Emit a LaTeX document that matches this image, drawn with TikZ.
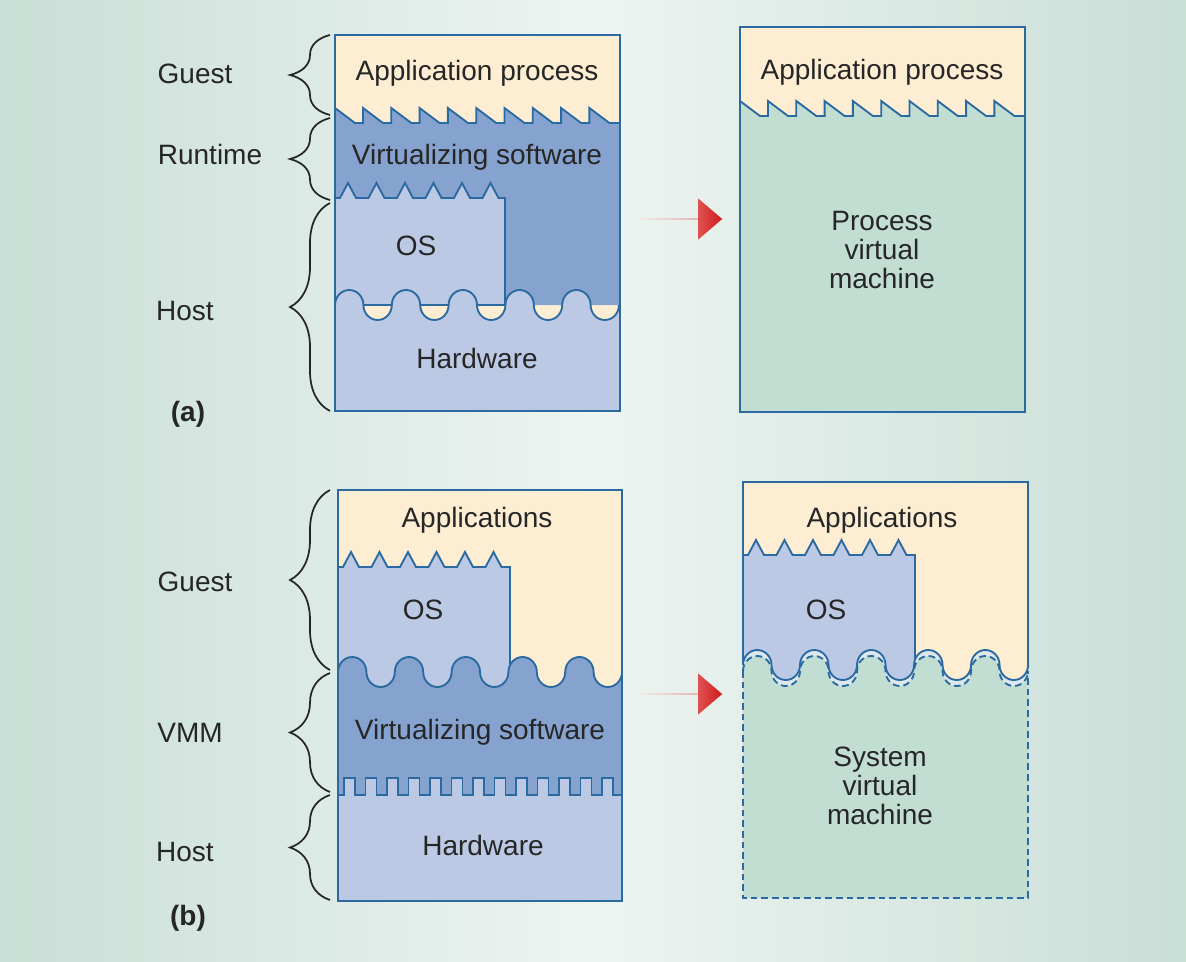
\documentclass[tikz,border=0pt]{standalone}
\usepackage{fontspec}
\setmainfont{Liberation Sans}
\usetikzlibrary{decorations.pathreplacing,shapes.arrows}
\definecolor{bgE}{HTML}{C8DFD6}
\definecolor{bgM}{HTML}{EEF4F1}
\definecolor{yel}{HTML}{FDEED3}
\definecolor{dblue}{HTML}{86A2CF}
\definecolor{lblue}{HTML}{BCC9E4}
\definecolor{grn}{HTML}{C2DDD2}
\definecolor{edge}{HTML}{2A6AA0}
\definecolor{pale}{HTML}{DCE8EE}
\begin{document}
\begin{tikzpicture}[x=0.75pt,y=-0.75pt,
  ln/.style={draw=edge,line width=1.4pt},
  lab/.style={font=\fontsize{21}{25}\selectfont,align=center,inner sep=0,text=black!85},
  brc/.style={decorate,decoration={brace,amplitude=30pt,aspect=0.5},draw=black!85,line width=1.3pt},
  arr/.style={single arrow,single arrow head extend=11.6pt,single arrow tip angle=81,
    minimum height=61.5pt,minimum width=30.75pt,inner sep=0,left color=red!15,right color=red!80!black!90,draw=none},
  hill/.style={},
]
\shade[left color=bgE,right color=bgE,middle color=bgM] (0,0) rectangle (1186,961);
\useasboundingbox (0,0) rectangle (1186,961);

% ===== (a) left =====
\fill[yel] (335,35) rectangle (620,411);
\fill[dblue] (335,108) \foreach \p in {363,391.3,...,592} {-- ++(20,15) -- (\p,123) -- (\p,108)} -- ++(20,15) -- (620,123) -- (620,305) -- (335,305) -- cycle;
\draw[ln] (335,108) \foreach \p in {363,391.3,...,592} {-- ++(20,15) -- (\p,123) -- (\p,108)} -- ++(20,15) -- (620,123);
\filldraw[fill=lblue,ln] (335,198) \foreach \p in {348,376.5,...,495} {-- (\p-8,198) -- (\p,183) -- (\p+8,198)} -- (505,198) -- (505,305) -- (335,305);
\fill[lblue] (335,305) \foreach \i in {1,...,5} {arc[start angle=180,end angle=0,x radius=10.65pt,y radius=11.25pt] arc[start angle=180,end angle=360,x radius=10.65pt,y radius=11.25pt]} -- (620,411) -- (335,411) -- cycle;
\draw[ln] (335,305) \foreach \i in {1,...,5} {arc[start angle=180,end angle=0,x radius=10.65pt,y radius=11.25pt] arc[start angle=180,end angle=360,x radius=10.65pt,y radius=11.25pt]};
\draw[ln] (335,35) rectangle (620,411);
\node[lab] (ap1) at (477,73) {Application process};
\node[lab] (vs1) at (477,157) {Virtualizing software};
\node[lab] (os1) at (416,246) {OS};
\node[lab] (hw1) at (477,358) {Hardware};

% braces (a)
\draw[brc] (330,115) -- (330,35) coordinate (ga);
\draw[brc] (330,200) -- (330,118) coordinate (ra);
\draw[brc] (330,411) -- (330,203) coordinate (ha);
\node[lab,anchor=center] (lg1) at (195,74) {Guest};
\node[lab] (lr1) at (210,154) {Runtime};
\node[lab] (lh1) at (185,311) {Host};
\node[lab,font=\fontsize{21}{25}\selectfont\bfseries] (la) at (188,414) {(a)};

% arrow (a)
\node[arr] (ar1) at (681,219) {};

% ===== (a) right =====
\fill[yel] (740,27) rectangle (1025,412);
\fill[grn] (740,101) \foreach \p in {768,796.3,...,997} {-- ++(20,15) -- (\p,116) -- (\p,101)} -- ++(20,15) -- (1025,116) -- (1025,412) -- (740,412) -- cycle;
\draw[ln] (740,101) \foreach \p in {768,796.3,...,997} {-- ++(20,15) -- (\p,116) -- (\p,101)} -- ++(20,15) -- (1025,116);
\draw[ln] (740,27) rectangle (1025,412);
\node[lab] (ap2) at (882,72) {Application process};
\node[lab] (pvm) at (882,250) {Process\\[-3pt]virtual\\[-3pt]machine};

% ===== (b) left =====
\fill[yel] (338,490) rectangle (622,901);
\filldraw[fill=lblue,ln] (338,567) \foreach \p in {351,379.5,...,496} {-- (\p-8,567) -- (\p,552) -- (\p+8,567)} -- (510,567) -- (510,690) -- (338,690);
\fill[dblue] (338,672) \foreach \i in {1,...,5} {arc[start angle=180,end angle=0,x radius=10.65pt,y radius=11.25pt] arc[start angle=180,end angle=360,x radius=10.65pt,y radius=11.25pt]} -- (622,901) -- (338,901) -- cycle;
\draw[ln] (338,672) \foreach \i in {1,...,5} {arc[start angle=180,end angle=0,x radius=10.65pt,y radius=11.25pt] arc[start angle=180,end angle=360,x radius=10.65pt,y radius=11.25pt]};
\fill[lblue] (338,795) \foreach \q in {344,365.5,...,605} {-- (\q,795) -- (\q,778) -- (\q+11,778) -- (\q+11,795)} -- (622,795) -- (622,901) -- (338,901) -- cycle;
\draw[ln] (338,795) \foreach \q in {344,365.5,...,605} {-- (\q,795) -- (\q,778) -- (\q+11,778) -- (\q+11,795)} -- (622,795);
\draw[ln] (338,490) rectangle (622,901);
\node[lab] (apb) at (477,520) {Applications};
\node[lab] (osb) at (423,610) {OS};
\node[lab] (vsb) at (480,732) {Virtualizing software};
\node[lab] (hwb) at (483,845) {Hardware};

% braces (b)
\draw[brc] (330,670) -- (330,490);
\draw[brc] (330,792) -- (330,673);
\draw[brc] (330,900) -- (330,795);
\node[lab] (lg2) at (195,582) {Guest};
\node[lab] (lv2) at (190,733) {VMM};
\node[lab] (lh2) at (185,852) {Host};
\node[lab,font=\fontsize{21}{25}\selectfont\bfseries] (lb) at (188,918) {(b)};

% arrow (b)
\node[arr] (ar2) at (681,694) {};

% ===== (b) right =====
\fill[yel] (743,482) rectangle (1028,690);
\filldraw[fill=lblue,ln] (743,555) \foreach \p in {756,784.5,...,901} {-- (\p-8,555) -- (\p,540) -- (\p+8,555)} -- (915,555) -- (915,690) -- (743,690);
\fill[pale] (743,665) \foreach \i in {1,...,5} {arc[start angle=180,end angle=0,x radius=10.69pt,y radius=11.25pt] arc[start angle=180,end angle=360,x radius=10.69pt,y radius=11.25pt]} -- (1028,898) -- (743,898) -- cycle;
\fill[grn] (743,671) \foreach \i in {1,...,5} {arc[start angle=180,end angle=0,x radius=10.69pt,y radius=11.25pt] arc[start angle=180,end angle=360,x radius=10.69pt,y radius=11.25pt]} -- (1028,898) -- (743,898) -- cycle;
\draw[ln,dash pattern=on 5pt off 3pt] (743,671) \foreach \i in {1,...,5} {arc[start angle=180,end angle=0,x radius=10.69pt,y radius=11.25pt] arc[start angle=180,end angle=360,x radius=10.69pt,y radius=11.25pt]};
\draw[ln,dash pattern=on 5pt off 3pt] (743,671) -- (743,898) -- (1028,898) -- (1028,671);
\draw[ln] (743,665) \foreach \i in {1,...,5} {arc[start angle=180,end angle=0,x radius=10.69pt,y radius=11.25pt] arc[start angle=180,end angle=360,x radius=10.69pt,y radius=11.25pt]};
\draw[ln] (743,665) -- (743,482) -- (1028,482) -- (1028,665);
\node[lab] (apc) at (882,520) {Applications};
\node[lab] (osc) at (826,610) {OS};
\node[lab] (svm) at (880,786) {System\\[-3pt]virtual\\[-3pt]machine};
\end{tikzpicture}
\end{document}
